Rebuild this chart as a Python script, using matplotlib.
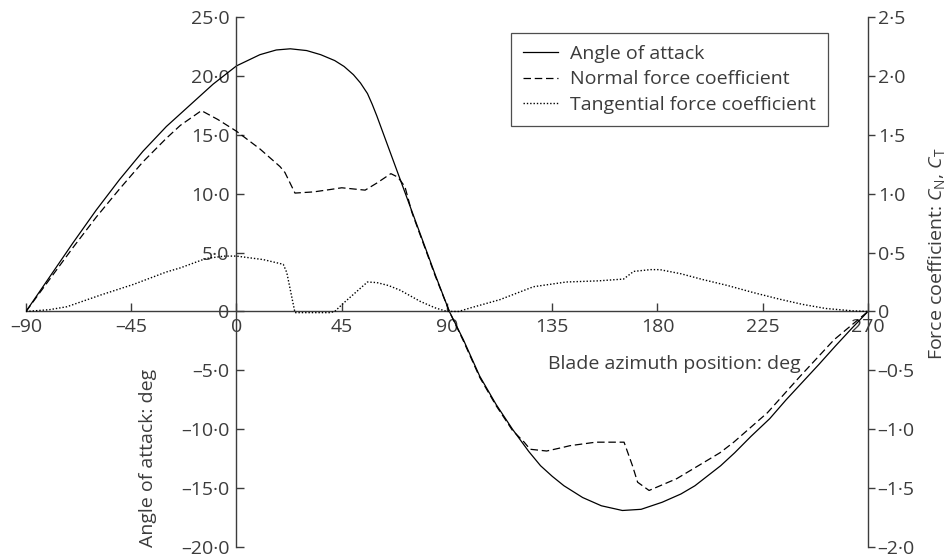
"""Angle of attack and blade force coefficients over one revolution."""

import matplotlib

matplotlib.use("Agg")
import matplotlib.pyplot as plt
from matplotlib.ticker import FixedLocator, FuncFormatter

plt.rcParams["font.family"] = ["Open Sans", "DejaVu Sans"]
plt.rcParams["mathtext.fontset"] = "custom"
plt.rcParams["mathtext.rm"] = "Open Sans"
plt.rcParams["mathtext.it"] = "Open Sans:italic"

# angle of attack, deg
aoa_theta = [-90, -80, -70, -60, -50, -40, -30, -20, -10, 0, 10, 17, 23, 30, 36, 42, 46, 50, 53, 56,
             58, 60, 65, 70, 75, 80, 85, 91, 97, 104, 111, 118, 125, 130, 135, 140, 148, 156, 165,
             173, 182, 190, 196, 207, 213, 220, 228, 235, 242, 249, 256, 263, 270]
aoa = [0, 2.9, 5.8, 8.6, 11.2, 13.6, 15.7, 17.5, 19.3, 20.85, 21.8, 22.2, 22.3, 22.15, 21.8, 21.3,
       20.8, 20.1, 19.4, 18.5, 17.6, 16.6, 13.9, 11.2, 8.5, 5.8, 3.1, 0, -2.4, -5.5, -7.9, -10.0,
       -11.9, -13.1, -14.0, -14.8, -15.8, -16.5, -16.9, -16.8, -16.2, -15.5, -14.8, -13.1, -12.0,
       -10.6, -9.1, -7.5, -6.0, -4.5, -2.95, -1.45, 0]

# normal force coefficient C_N
cn_theta = [-90, -80, -70, -60, -50, -40, -30, -24, -15, -8, 0, 10, 18.6, 20.7, 25, 33, 40, 45, 50,
            55, 60, 66, 69, 72, 75, 80, 85, 91, 97, 104, 111, 118, 123, 125.5, 132.6, 139.4, 142.5,
            153.6, 165.7, 169.3, 171.5, 176.4, 188.2, 206.7, 212.6, 227, 241, 255.5, 270]
cn = [0, 0.27, 0.54, 0.80, 1.04, 1.27, 1.47, 1.58, 1.705, 1.63, 1.53, 1.38, 1.23, 1.18, 1.005,
      1.015, 1.035, 1.05, 1.04, 1.03, 1.09, 1.17, 1.14, 1.06, 0.84, 0.57, 0.30, 0, -0.25, -0.56,
      -0.80, -1.01, -1.11, -1.17, -1.185, -1.155, -1.14, -1.11, -1.11, -1.31, -1.45, -1.52, -1.42,
      -1.20, -1.11, -0.86, -0.55, -0.24, 0]

# tangential force coefficient C_T
ct_theta = [-90, -80, -72.5, -58, -44, -30, -24, -13, -5, 0, 11.5, 20, 21.5, 25, 40, 42, 46, 52, 56,
            60, 65, 70, 78.6, 85, 90, 95, 100, 112.6, 127, 141, 155, 165.5, 169.8, 177, 181, 190,
            199.5, 210, 221, 232, 242, 252, 263.5, 270]
ct = [0, 0.015, 0.04, 0.14, 0.23, 0.335, 0.37, 0.45, 0.47, 0.47, 0.44, 0.40, 0.33, -0.01, -0.01,
      0, 0.075, 0.18, 0.25, 0.245, 0.22, 0.18, 0.085, 0.03, 0, 0, 0.03, 0.10, 0.21, 0.25, 0.26,
      0.275, 0.34, 0.355, 0.355, 0.32, 0.27, 0.22, 0.16, 0.105, 0.06, 0.025, 0.005, 0]

x_ticks = [-90, -45, 0, 45, 90, 135, 180, 225, 270]
aoa_ticks = [-20, -15, -10, -5, 0, 5, 10, 15, 20, 25]
coef_ticks = [-2.0, -1.5, -1.0, -0.5, 0, 0.5, 1.0, 1.5, 2.0, 2.5]

TEXT = "#3c3c3c"
FS = 14


def _fmt(v, decimals):
    if v == 0:
        return "0"
    s = f"{abs(v):.{decimals}f}".replace(".", "\u00b7")
    return ("\u2013" + s) if v < 0 else s


def plot_blade_loads():
    fig = plt.figure(figsize=(9.53, 5.57), dpi=100)
    ax = fig.add_axes([26 / 953, 1 - 547 / 557, 842 / 953, 530 / 557])
    ax2 = ax.twinx()

    ln1, = ax.plot(aoa_theta, aoa, color="black", lw=0.9, label="Angle of attack")
    # force coefficients on the right scale (ten times smaller)
    ln2, = ax2.plot(cn_theta, cn, color="black", lw=0.9, linestyle=(0, (6, 3)),
                    label="Normal force coefficient")
    ln3, = ax2.plot(ct_theta, ct, color="black", lw=1.0, linestyle=(0, (1, 1.4)),
                    label="Tangential force coefficient")

    ax.set_xlim(-90, 270)
    ax.set_ylim(-20, 25)
    ax2.set_ylim(-2.0, 2.5)

    ax.spines["left"].set_position(("data", 0))
    ax.spines["bottom"].set_position(("data", 0))
    ax.spines["top"].set_visible(False)
    ax.spines["right"].set_visible(False)
    for side in ["left", "top", "bottom"]:
        ax2.spines[side].set_visible(False)
    for sp in [ax.spines["left"], ax.spines["bottom"], ax2.spines["right"]]:
        sp.set_color(TEXT)
        sp.set_linewidth(1.0)

    ax.xaxis.set_major_locator(FixedLocator(x_ticks))
    ax.xaxis.set_major_formatter(FuncFormatter(lambda v, p: _fmt(v, 0)))
    ax.yaxis.set_major_locator(FixedLocator(aoa_ticks))
    ax.yaxis.set_major_formatter(FuncFormatter(lambda v, p: _fmt(v, 1)))
    ax2.yaxis.set_major_locator(FixedLocator(coef_ticks))
    ax2.yaxis.set_major_formatter(FuncFormatter(lambda v, p: _fmt(v, 1)))

    ax.tick_params(axis="x", direction="in", length=6, width=1.0, color=TEXT,
                   labelsize=FS, labelcolor=TEXT, pad=5)
    ax.tick_params(axis="y", direction="in", length=6, width=1.0, color=TEXT,
                   labelsize=FS, labelcolor=TEXT, pad=5)
    ax2.tick_params(axis="y", direction="out", length=5, width=1.0, color=TEXT,
                    labelsize=FS, labelcolor=TEXT, pad=2)

    ax.set_xlabel("Blade azimuth position: deg", fontsize=FS, color=TEXT)
    ax.xaxis.set_label_coords(0.7696, 0.362)
    ax.set_ylabel("Angle of attack: deg", fontsize=FS, color=TEXT)
    ax.yaxis.set_label_coords(0.1554, 0.168)
    ax2.set_ylabel(r"Force coefficient: $C_\mathrm{N}$, $C_\mathrm{T}$", fontsize=FS, color=TEXT)
    ax2.yaxis.set_label_coords(1.069, 0.553)

    leg = ax.legend(handles=[ln1, ln2, ln3], loc="upper right",
                    bbox_to_anchor=(828 / 953, 1 - 33 / 557), bbox_transform=fig.transFigure,
                    borderaxespad=0, fontsize=FS, frameon=True, fancybox=False,
                    handlelength=1.8, handletextpad=0.65, labelspacing=0.4, borderpad=0.6)
    leg.get_frame().set_edgecolor("#222222")
    leg.get_frame().set_linewidth(0.9)
    for t in leg.get_texts():
        t.set_color(TEXT)

    fig.savefig("out.png", dpi=100)


if __name__ == "__main__":
    plot_blade_loads()
